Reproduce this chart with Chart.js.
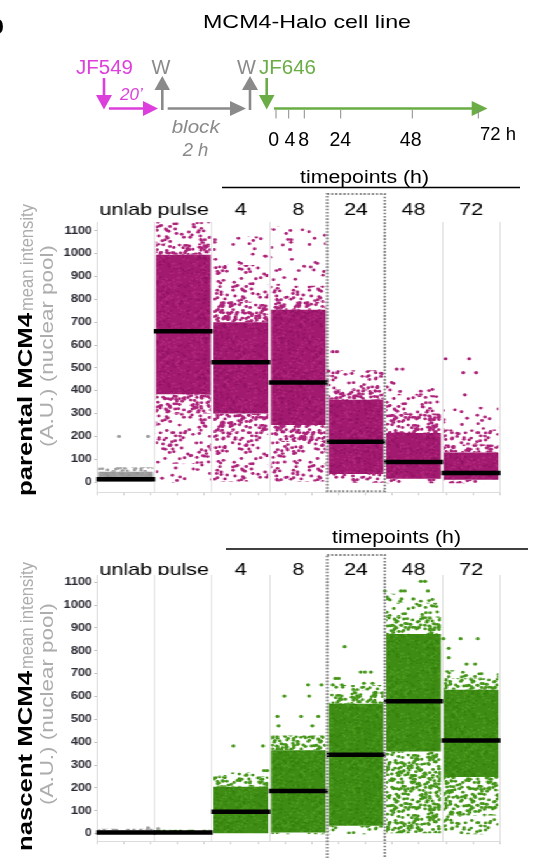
<!DOCTYPE html>
<html>
<head>
<meta charset="utf-8">
<script src="https://cdn.jsdelivr.net/npm/chart.js@4.4.1/dist/chart.umd.min.js"></script>
<style>
  html, body { margin: 0; padding: 0; background: #fff; }
  body { width: 535px; height: 858px; overflow: hidden; position: relative; font-family: "Liberation Sans", Arial, sans-serif; }
  /* the plots were exported wide: draw them narrow and stretch horizontally */
  #plots { position: absolute; left: 0; top: 0; width: 421px; height: 880px; transform: scaleX(1.2708); transform-origin: 0 0; }
  #plots canvas { position: absolute; left: 0; }
  #notes { position: absolute; left: 0; top: 0; pointer-events: none; }
</style>
</head>
<body>
<div id="plots">
  <canvas id="parental" width="421" height="330" style="top:190px"></canvas>
  <canvas id="nascent" width="421" height="349" style="top:520px"></canvas>
</div>

<svg id="notes" width="535" height="858" font-family="'Liberation Sans', Arial, sans-serif">
  <text x="-13" y="34" font-size="28" font-weight="bold">b</text>
  <text x="203" y="28" font-size="18.5" textLength="208" lengthAdjust="spacingAndGlyphs">MCM4-Halo cell line</text>

  <!-- labelling scheme -->
  <text x="76" y="73.5" font-size="20" fill="#dc3fdc" textLength="57" lengthAdjust="spacingAndGlyphs">JF549</text>
  <text x="151.5" y="73.5" font-size="20" fill="#8a8a8a">W</text>
  <text x="237" y="73.5" font-size="20" fill="#8a8a8a">W</text>
  <text x="259" y="73.5" font-size="20" fill="#6aac45" textLength="57" lengthAdjust="spacingAndGlyphs">JF646</text>

  <g stroke-width="2.6" fill="none">
    <line x1="104" y1="78" x2="104" y2="97" stroke="#dc3fdc"/>
    <line x1="109" y1="108.5" x2="145" y2="108.5" stroke="#dc3fdc"/>
    <line x1="162.3" y1="110" x2="162.3" y2="88" stroke="#8a8a8a"/>
    <line x1="167.7" y1="108.5" x2="232" y2="108.5" stroke="#8a8a8a"/>
    <line x1="250" y1="110" x2="250" y2="88" stroke="#8a8a8a"/>
    <line x1="266.7" y1="78" x2="266.7" y2="97" stroke="#6aac45"/>
    <line x1="274" y1="108.5" x2="474" y2="108.5" stroke="#6aac45"/>
  </g>
  <polygon points="96,95 112,95 104,109.5" fill="#dc3fdc"/>
  <polygon points="143,101 143,116 158,108.5" fill="#dc3fdc"/>
  <polygon points="154.5,90 170,90 162.3,76" fill="#8a8a8a"/>
  <polygon points="230,101 230,116 246,108.5" fill="#8a8a8a"/>
  <polygon points="242,90 258,90 250,76" fill="#8a8a8a"/>
  <polygon points="259,95 274.5,95 266.7,109.5" fill="#6aac45"/>
  <polygon points="471.7,101 471.7,116 487.5,108.5" fill="#6aac45"/>
  <g stroke="#8a8a8a" stroke-width="1">
    <line x1="276" y1="110" x2="276" y2="118.5"/>
    <line x1="288.7" y1="110" x2="288.7" y2="118.5"/>
    <line x1="304.3" y1="110" x2="304.3" y2="118.5"/>
    <line x1="340.7" y1="110" x2="340.7" y2="118.5"/>
    <line x1="412.3" y1="110" x2="412.3" y2="118.5"/>
    <line x1="478.3" y1="110" x2="478.3" y2="118.5"/>
  </g>
  <text x="120" y="100" font-size="17" font-style="italic" fill="#dc3fdc">20’</text>
  <text x="171.7" y="133" font-size="18.5" font-style="italic" fill="#8a8a8a" textLength="48" lengthAdjust="spacingAndGlyphs">block</text>
  <text x="182.7" y="156" font-size="18.5" font-style="italic" fill="#8a8a8a">2 h</text>
  <g font-size="19.5" text-anchor="middle">
    <text x="273.8" y="145.5">0</text>
    <text x="290" y="145.5">4</text>
    <text x="303.8" y="145.5">8</text>
    <text x="340.3" y="145.5">24</text>
    <text x="410.7" y="145.5">48</text>
  </g>
  <text x="480" y="140" font-size="18.5">72 h</text>

  <!-- headers over the chase timepoints -->
  <text x="300" y="182.5" font-size="18" textLength="129" lengthAdjust="spacingAndGlyphs">timepoints (h)</text>
  <line x1="222" y1="187.5" x2="520" y2="187.5" stroke="#000" stroke-width="1.5"/>
  <text x="332" y="543" font-size="18" textLength="129" lengthAdjust="spacingAndGlyphs">timepoints (h)</text>
  <line x1="226" y1="549" x2="528" y2="549" stroke="#000" stroke-width="1.5"/>

  <!-- y titles -->
  <text transform="translate(32,496) rotate(-90)" font-size="20" font-weight="bold" textLength="183" lengthAdjust="spacingAndGlyphs">parental MCM4</text>
  <text transform="translate(33,311) rotate(-90)" font-size="17.5" fill="#adadad" textLength="107" lengthAdjust="spacingAndGlyphs">mean intensity</text>
  <text transform="translate(53,447) rotate(-90)" font-size="18" fill="#adadad" textLength="202" lengthAdjust="spacingAndGlyphs">(A.U.) (nuclear pool)</text>
  <text transform="translate(32,851) rotate(-90)" font-size="20" font-weight="bold" textLength="180" lengthAdjust="spacingAndGlyphs">nascent MCM4</text>
  <text transform="translate(33,669) rotate(-90)" font-size="17.5" fill="#adadad" textLength="107" lengthAdjust="spacingAndGlyphs">mean intensity</text>
  <text transform="translate(53,805) rotate(-90)" font-size="18" fill="#adadad" textLength="202" lengthAdjust="spacingAndGlyphs">(A.U.) (nuclear pool)</text>
</svg>

<script>
const categories = ['unlab', 'pulse', '4', '8', '24', '48', '72'];
const yTicks = [0, 100, 200, 300, 400, 500, 600, 700, 800, 900, 1000, 1100];

// parental pool (JF549): median and value ranges of the point cloud, by density
const parentalMedian = [12, 660, 525, 436, 177, 88, 40];
const parentalCore = [[0, 45], [385, 995], [300, 700], [250, 755], [35, 360], [15, 215], [10, 130]];
const parentalUpperEdge = [[45, 65], [995, 1045], [700, 790], [755, 790], [360, 405], [215, 300], [130, 165]];
const parentalUpperTail = [null, [1045, 1138], [790, 950], [790, 860], [405, 490], [300, 380], [165, 230]];
const parentalUpperSparse = [null, null, [950, 1075], [860, 1120], null, [380, 450], [230, 330]];
const parentalLowerEdge = [null, [300, 385], [220, 300], [175, 250], null, null, null];
const parentalLowerTail = [null, [80, 300], [0, 220], [0, 175], [-3, 35], [-5, 15], [-5, 10]];
const parentalLowerSparse = [null, [-3, 80], null, null, null, null, null];
// single cells away from the cloud: [category, jitter, value]
const parentalOutliers = [
  ['unlab', -0.34, 200], ['unlab', 0.2, 200],
  ['24', -0.36, 571], ['24', -0.28, 571], ['24', -0.44, 486],
  ['48', -0.17, 495], ['48', -0.06, 495],
  ['72', -0.26, 540], ['72', 0.18, 540], ['72', 0.07, 479], ['72', 0.31, 479], ['72', 0.1, 382]
];

// nascent pool (JF646)
const nascentMedian = [5, 5, 96, 187, 345, 579, 408];
const nascentCore = [[0, 14], [0, 12], [0, 205], [5, 365], [35, 568], [360, 874], [248, 630]];
const nascentUpperEdge = [[14, 22], [12, 17], [205, 250], [365, 430], [568, 625], [874, 950], [630, 680]];
const nascentUpperTail = [null, null, [250, 268], null, [625, 650], [950, 1010], [680, 715]];
const nascentUpperSparse = [null, null, null, null, null, [1010, 1050], null];
const nascentLowerEdge = [null, null, null, null, null, [0, 360], [80, 248]];
const nascentLowerTail = [null, null, null, [-3, 5], [-3, 35], null, [-3, 80]];
const nascentOutliers = [
  ['unlab', 0.2, 25], ['unlab', 0.39, 22],
  ['4', -0.21, 384], ['4', 0.34, 384], ['4', 0.36, 276], ['4', 0.42, 276],
  ['8', -0.37, 472], ['8', 0.26, 472], ['8', -0.39, 513], ['8', 0.05, 513], ['8', 0.37, 513],
  ['8', -0.26, 602], ['8', 0.2, 602], ['8', 0.18, 651], ['8', 0.43, 651],
  ['24', -0.14, 818], ['24', 0.16, 707], ['24', 0.24, 707], ['24', 0.35, 707], ['24', -0.31, 679],
  ['24', -0.25, 679], ['24', 0.22, 658], ['24', 0.38, 658], ['24', -0.36, 651], ['24', -0.19, 651],
  ['48', 0.28, 1104], ['48', 0.36, 1104], ['48', -0.39, 1062], ['48', -0.09, 1062], ['48', -0.02, 1062],
  ['48', 0.41, 1062], ['48', -0.33, 1027], ['48', -0.08, 1027], ['48', 0.14, 1027],
  ['72', -0.3, 853], ['72', 0.02, 853], ['72', 0.34, 853], ['72', -0.2, 811], ['72', -0.2, 770],
  ['72', 0.13, 742], ['72', 0.29, 742]
];

const FONT = '"Liberation Sans", Arial, sans-serif';
const GREY = { core: '#9b9b9b', light: '#a8a8a8', dark: '#8e8e8e', dot: '#9f9f9f' };
const MAGENTA = { core: '#a21a6f', light: '#b22a7e', dark: '#901262', dot: '#ad237a' };
const GREEN = { core: '#3e8c14', light: '#4f9d22', dark: '#33800c', dot: '#46961a' };

// textures for the cloud: dots per 1000 square px
const density = { edge: 100, tail: 40, sparse: 13 };
const TILE = 60;

function hash(n) {
  const s = Math.sin(n * 127.1 + 311.7) * 43758.5453;
  return s - Math.floor(s);
}

function dots(c, color, count, r, seed) {
  c.fillStyle = color;
  for (let i = 0; i < count; i++) {
    const px = hash(seed + i * 2 + 1) * TILE;
    const py = hash(seed + i * 2 + 2) * TILE;
    for (const dx of [-TILE, 0, TILE]) for (const dy of [-TILE, 0, TILE]) {
      c.beginPath();
      c.arc(px + dx, py + dy, r, 0, Math.PI * 2);
      c.fill();
    }
  }
}

function texture(scheme, kind) {
  const tile = document.createElement('canvas');
  tile.width = tile.height = TILE;
  const c = tile.getContext('2d');
  if (kind === 'core') {
    // packed points: solid colour with a little grain
    c.fillStyle = scheme.core;
    c.fillRect(0, 0, TILE, TILE);
    dots(c, scheme.light, 260, 0.9, 11);
    dots(c, scheme.dark, 200, 0.9, 7001);
  } else {
    dots(c, scheme.dot, Math.round(density[kind] * TILE * TILE / 1000), 1.45, kind.length * 977);
  }
  return c.createPattern(tile, 'repeat');
}

const focusBox = {
  id: 'focusBox',
  afterDatasetsDraw(chart, args, o) {
    const x = chart.scales.x;
    const i = categories.indexOf(o.category);
    const half = (x.getPixelForValue(1) - x.getPixelForValue(0)) / 2;
    const cx = x.getPixelForValue(i);
    const { top, bottom } = chart.chartArea;
    const ctx = chart.ctx;
    ctx.save();
    ctx.strokeStyle = '#7f7f7f';
    ctx.lineWidth = 2;
    ctx.setLineDash([1.6, 1.6]);
    ctx.strokeRect(cx - half, top - o.above, half * 2, bottom - top + o.above + o.below);
    ctx.restore();
  }
};

function buildChart(id, cfg) {
  const layerSets = cfg.layers.map(([data, kind]) => {
    const grey = texture(GREY, kind);
    const main = texture(cfg.scheme, kind);
    return {
      type: 'bar',
      data,
      backgroundColor: categories.map((c, i) => (i === 0 ? grey : main)),
      borderWidth: 0,
      grouped: false,
      barPercentage: 0.95,
      categoryPercentage: 1,
      order: 2
    };
  });

  const datasets = [
    {
      type: 'line',
      data: cfg.median,
      showLine: false,
      pointStyle: 'line',
      pointRadius: 23.2,
      pointHoverRadius: 23.2,
      pointBorderColor: '#000',
      pointBorderWidth: 4.5,
      order: 0
    },
    {
      type: 'scatter',
      xAxisID: 'x2',
      data: cfg.outliers.map(([c, dx, v]) => ({ x: categories.indexOf(c) + dx, y: v })),
      pointRadius: 1.6,
      pointBorderWidth: 0,
      pointBackgroundColor: cfg.outliers.map(([c]) => (c === 'unlab' ? GREY.dot : cfg.scheme.dot)),
      order: 1
    },
    ...layerSets
  ];

  return new Chart(document.getElementById(id), {
    type: 'bar',
    data: { labels: categories, datasets },
    options: {
      responsive: false,
      animation: false,
      events: [],
      layout: { padding: { left: 0, right: 8.3, top: 0, bottom: 0 } },
      plugins: {
        legend: { display: false },
        tooltip: { enabled: false },
        focusBox: { category: '24', above: cfg.boxAbove, below: cfg.boxBelow }
      },
      scales: {
        x: {
          position: 'top',
          offset: true,
          afterFit: s => { s.height = cfg.topH; },
          border: { display: false },
          grid: { color: '#e2e2e2', lineWidth: 1, drawTicks: false, offset: true },
          ticks: {
            color: '#000',
            padding: cfg.labelPad,
            autoSkip: false,
            maxRotation: 0,
            font: { family: FONT, size: 17 }
          }
        },
        x2: {
          type: 'linear',
          position: 'bottom',
          min: -0.5,
          max: 6.5,
          afterFit: s => { s.height = 15; },
          afterBuildTicks: axis => {
            const t = [];
            for (let v = -0.5; v <= 6.5; v += 0.5) t.push({ value: v });
            axis.ticks = t;
          },
          border: { display: true, color: '#dcdcdc' },
          grid: { drawOnChartArea: false, drawTicks: true, tickLength: 3, color: '#d0d0d0' },
          ticks: { display: false }
        },
        y: {
          min: cfg.yMin,
          max: cfg.yMax,
          afterFit: s => { s.width = 76.33; },
          afterBuildTicks: axis => { axis.ticks = yTicks.map(value => ({ value })); },
          border: { display: true, color: '#d8d8d8' },
          grid: { drawOnChartArea: false, drawTicks: true, tickLength: 2, color: '#bbb' },
          ticks: {
            color: '#2a2a33',
            padding: 2,
            font: { family: FONT, size: 10, weight: 'bold' },
            callback: v => String(v)
          }
        }
      }
    },
    plugins: [focusBox]
  });
}

buildChart('parental', {
  scheme: MAGENTA,
  median: parentalMedian,
  outliers: parentalOutliers,
  layers: [
    [parentalCore, 'core'],
    [parentalUpperEdge, 'edge'],
    [parentalUpperTail, 'tail'],
    [parentalUpperSparse, 'sparse'],
    [parentalLowerEdge, 'edge'],
    [parentalLowerTail, 'tail'],
    [parentalLowerSparse, 'sparse']
  ],
  yMin: -44.8, yMax: 1138.8,
  topH: 32, labelPad: 1,
  boxAbove: 28, boxBelow: -1
});

buildChart('nascent', {
  scheme: GREEN,
  median: nascentMedian,
  outliers: nascentOutliers,
  layers: [
    [nascentCore, 'core'],
    [nascentUpperEdge, 'edge'],
    [nascentUpperTail, 'tail'],
    [nascentUpperSparse, 'sparse'],
    [nascentLowerEdge, 'edge'],
    [nascentLowerTail, 'tail']
  ],
  yMin: -33.4, yMax: 1131.7,
  topH: 55, labelPad: -5.3,
  boxAbove: 20, boxBelow: 20
});
</script>
</body>
</html>
